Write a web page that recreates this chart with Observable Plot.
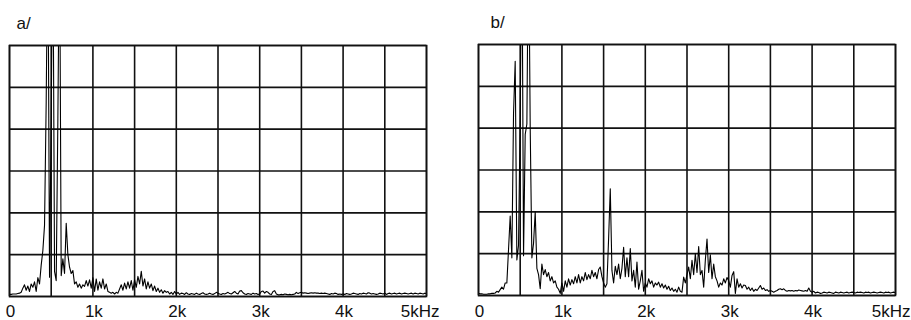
<!DOCTYPE html>
<html><head><meta charset="utf-8">
<script src="https://cdn.jsdelivr.net/npm/d3@7"></script>
<script src="https://cdn.jsdelivr.net/npm/@observablehq/plot@0.6"></script>
<style>
html,body{margin:0;padding:0;background:#fff;}
#wrap{display:flex;width:911px;height:320px;overflow:hidden;}
svg{display:block;}
</style></head><body><div id="wrap"></div>
<script>
// FFT bins every 20 Hz, 0 .. 5000 Hz
const freqs = d3.range(0, 5001, 20);

// amplitude in grid divisions (6 divisions high); values > 6 run off the top
const spectrumA = [
  0.05,0.05,0.06,0.06,0.06,0.07,0.08,0.1,0.2,0.28,
  0.15,0.25,0.12,0.3,0.22,0.35,0.12,0.45,0.3,0.75,
  1.1,1.7,4.65,9,0.46,4.33,9,0.6,0.38,4.26,
  9,0.5,0.9,0.55,1.75,1.0,0.7,0.55,0.62,0.3,
  0.35,0.22,0.3,0.2,0.28,0.24,0.38,0.25,0.4,0.2,
  0.45,0.12,0.42,0.15,0.35,0.2,0.42,0.18,0.3,0.12,
  0.1,0.08,0.1,0.06,0.1,0.08,0.18,0.28,0.15,0.32,
  0.18,0.35,0.2,0.38,0.15,0.4,0.22,0.48,0.3,0.6,
  0.25,0.42,0.18,0.35,0.2,0.3,0.14,0.25,0.12,0.2,
  0.1,0.16,0.08,0.14,0.1,0.12,0.06,0.1,0.05,0.12,
  0.06,0.1,0.05,0.08,0.07,0.05,0.09,0.06,0.05,0.07,
  0.06,0.05,0.08,0.06,0.05,0.07,0.09,0.06,0.05,0.06,
  0.08,0.06,0.05,0.07,0.1,0.08,0.06,0.05,0.07,0.06,
  0.08,0.1,0.07,0.06,0.09,0.12,0.08,0.06,0.13,0.14,
  0.09,0.06,0.05,0.07,0.06,0.05,0.08,0.06,0.07,0.05,
  0.06,0.12,0.13,0.08,0.12,0.1,0.06,0.05,0.12,0.14,
  0.06,0.04,0.04,0.05,0.04,0.06,0.05,0.04,0.05,0.04,
  0.05,0.06,0.1,0.07,0.09,0.1,0.08,0.09,0.08,0.07,
  0.08,0.09,0.08,0.09,0.08,0.08,0.07,0.08,0.07,0.08,
  0.07,0.06,0.05,0.07,0.06,0.08,0.07,0.05,0.06,0.05,
  0.06,0.05,0.07,0.06,0.05,0.06,0.08,0.07,0.06,0.05,
  0.07,0.06,0.08,0.07,0.06,0.09,0.08,0.06,0.07,0.06,
  0.05,0.06,0.08,0.07,0.06,0.08,0.05,0.07,0.08,0.06,
  0.07,0.08,0.06,0.07,0.08,0.06,0.07,0.08,0.07,0.06,
  0.07,0.08,0.06,0.08,0.07,0.06,0.08,0.07,0.06,0.08,
  0.07
];

const spectrumB = [
  0.05,0.04,0.04,0.03,0.03,0.03,0.04,0.04,0.05,0.05,
  0.06,0.1,0.08,0.14,0.2,0.15,0.3,0.3,1.1,1.9,
  0.9,4.35,5.6,0.85,1.2,4.26,9,0.95,3.85,4.1,
  9,4.0,0.9,1.25,2.0,0.65,0.5,0.16,0.75,0.5,
  0.62,0.45,0.55,0.35,0.45,0.3,0.35,0.2,0.15,0.05,
  0.3,0.1,0.35,0.2,0.4,0.25,0.38,0.28,0.45,0.3,
  0.5,0.3,0.45,0.35,0.55,0.38,0.5,0.4,0.6,0.45,
  0.55,0.4,0.62,0.68,0.45,0.3,0.2,0.28,1.36,2.55,
  0.6,0.3,0.7,0.5,0.75,0.4,0.65,1.15,0.45,0.9,
  0.45,1.12,0.35,0.6,0.2,0.8,0.15,0.35,0.6,0.1,
  0.3,0.2,0.4,0.28,0.35,0.2,0.3,0.25,0.32,0.2,
  0.28,0.18,0.25,0.15,0.22,0.12,0.18,0.1,0.15,0.08,
  0.2,0.1,0.08,0.44,0.3,0.5,0.68,0.4,0.84,0.5,
  1.0,0.55,1.17,0.5,0.6,0.2,0.85,1.35,0.55,0.97,
  0.4,0.75,0.45,0.35,0.2,0.3,0.25,0.4,0.3,0.43,
  0.35,0.2,0.48,0.57,0.05,0.4,0.2,0.28,0.18,0.25,
  0.24,0.15,0.2,0.12,0.18,0.1,0.15,0.12,0.18,0.24,
  0.15,0.18,0.12,0.14,0.1,0.12,0.1,0.08,0.1,0.12,
  0.15,0.16,0.14,0.16,0.12,0.1,0.12,0.11,0.12,0.1,
  0.12,0.11,0.13,0.12,0.11,0.1,0.12,0.1,0.18,0.1,
  0.08,0.1,0.06,0.08,0.07,0.05,0.06,0.08,0.07,0.06,
  0.08,0.07,0.06,0.05,0.08,0.07,0.06,0.08,0.07,0.06,
  0.07,0.08,0.06,0.07,0.08,0.07,0.06,0.08,0.07,0.08,
  0.07,0.06,0.08,0.07,0.08,0.06,0.07,0.08,0.07,0.06,
  0.07,0.08,0.07,0.06,0.08,0.07,0.08,0.06,0.07,0.08,
  0.07
];

const xGrid = [0,500,1000,1500,2000,2500,3000,3500,4000,4500,5000];
const yGrid = [0,1,2,3,4,5,6];
const xTicks = [0,1000,2000,3000,4000];
const xTickLabels = ["0","1k","2k","3k","4k"];
const lastTick = 5000;
const lastTickLabel = "5kHz";
const panelLabels = ["a/","b/"];

const font = "'Liberation Sans', Arial, Helvetica, sans-serif";

function panel(values, label, o) {
  const data = freqs.map((f, i) => ({f, v: values[i]}));
  return Plot.plot({
    width: o.w, height: 320,
    marginLeft: o.ml, marginRight: o.mr, marginTop: o.mt, marginBottom: o.mb,
    x: {domain: [0, 5000], axis: null},
    y: {domain: [0, 6], axis: null},
    style: {fontFamily: font, background: "#fff", overflow: "visible"},
    marks: [
      Plot.ruleX(xGrid, {stroke: "#111", strokeWidth: 1.6}),
      Plot.ruleY(yGrid, {stroke: "#111", strokeWidth: 1.6}),
      Plot.line(data, {x: "f", y: "v", stroke: "#000", strokeWidth: 1.1, clip: true}),
      Plot.frame({stroke: "#111", strokeWidth: 1.6}),
      Plot.text(xTicks, {x: d => d, text: (d, i) => xTickLabels[i], frameAnchor: "bottom",
        lineAnchor: "bottom", dx: 1, dy: o.tdy, fontSize: 17, fill: "#111"}),
      Plot.text([lastTick], {x: d => d, text: () => lastTickLabel, frameAnchor: "bottom",
        lineAnchor: "bottom", textAnchor: "end", dx: o.endDx, dy: o.tdy, fontSize: 17, fill: "#111"}),
      Plot.text([label], {text: d => d, frameAnchor: "top-left", textAnchor: "start",
        lineAnchor: "bottom", dx: o.ldx, dy: -17, fontSize: 17, fill: "#111"})
    ]
  });
}

const wrap = document.getElementById("wrap");
wrap.appendChild(panel(spectrumA, panelLabels[0], {w: 455, ml: 9, mr: 29, mt: 45, mb: 24, tdy: 20, endDx: 13, ldx: 7}));
wrap.appendChild(panel(spectrumB, panelLabels[1], {w: 456, ml: 23, mr: 16, mt: 44, mb: 25, tdy: 21, endDx: 15, ldx: 12}));
</script>
</body></html>
